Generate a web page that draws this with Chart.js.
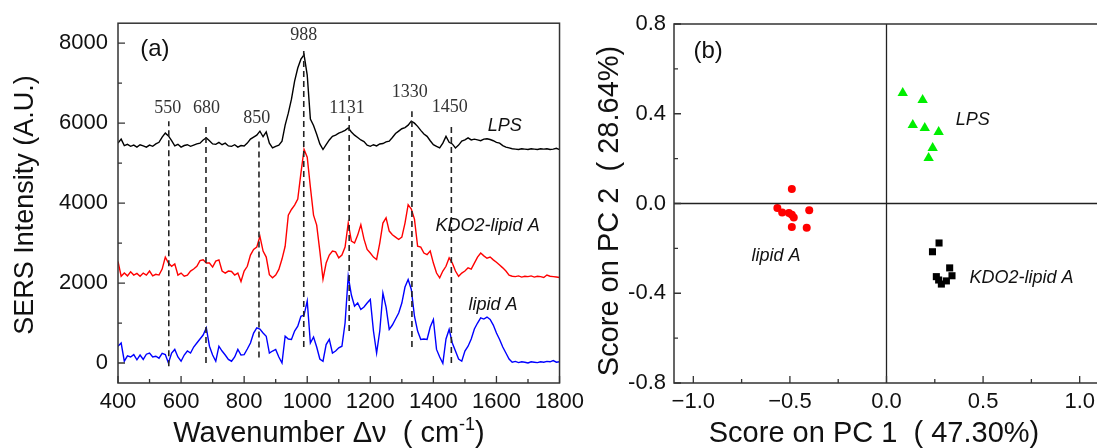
<!DOCTYPE html>
<html>
<head>
<meta charset="utf-8">
<script src="https://cdn.jsdelivr.net/npm/chart.js@4.4.0/dist/chart.umd.min.js"></script>
<style>
  html, body { margin: 0; padding: 0; background: #fff; overflow: hidden; }
  body { width: 1097px; height: 448px; position: relative; }
  #spectra { position: absolute; left: 0; top: 0; }
  #pca { position: absolute; left: 590px; top: 0; }
</style>
</head>
<body>
<canvas id="spectra" width="590" height="448"></canvas>
<canvas id="pca" width="530" height="448"></canvas>
<script>
// ---------- panel (a): SERS spectra ----------
// one reading every 10 cm-1 from 400 to 1800
const wavenumbers = [];
for (let w = 400; w <= 1800; w += 10) wavenumbers.push(w);

const lpsIntensity = [
  5500,5600,5440,5470,5420,5450,5400,5460,5430,5400, // 400
  5450,5420,5480,5520,5650,5750,5680,5560,5430,5470, // 500
  5400,5440,5460,5420,5450,5480,5500,5580,5630,5560, // 600
  5480,5470,5520,5460,5500,5430,5420,5460,5400,5440, // 700
  5430,5500,5600,5650,5700,5800,5660,5780,5500,5380, // 800
  5420,5450,5550,5950,6250,6600,7050,7380,7600,7710, // 900
  7200,6100,5940,5720,5480,5340,5460,5580,5670,5700, // 1000
  5750,5780,5820,5880,5780,5700,5640,5580,5540,5450, // 1100
  5420,5460,5430,5480,5490,5530,5550,5640,5740,5800, // 1200
  5860,5890,5950,6050,6000,5920,5820,5730,5670,5560, // 1300
  5460,5420,5380,5500,5670,5520,5480,5380,5450,5550, // 1400
  5580,5630,5580,5600,5580,5560,5600,5610,5590,5560, // 1500
  5520,5500,5440,5400,5380,5360,5350,5340,5360,5350, // 1600
  5340,5360,5350,5340,5360,5350,5360,5340,5350,5370, // 1700
  5340
];
const kdo2Intensity = [
  2540,2170,2250,2180,2280,2200,2240,2170,2250,2200, // 400
  2300,2180,2220,2200,2350,2650,2500,2420,2480,2200, // 500
  2250,2170,2200,2300,2350,2420,2560,2580,2500,2500, // 600
  2400,2550,2580,2300,2250,2300,2290,2200,2250,2040, // 700
  2300,2420,2700,2840,2900,3170,2800,2650,2210,2130, // 800
  2200,2340,2600,2920,3700,3840,3950,4100,4750,5340, // 900
  5150,4400,3700,3450,2800,2100,2500,2700,2800,2780, // 1000
  2630,2700,2900,3500,3050,3000,3200,3460,3100,2840, // 1100
  2750,2650,2590,3000,3500,3630,3300,3210,3150,3090, // 1200
  3150,3500,3960,3850,3600,2920,2900,2750,2710,2800, // 1300
  2500,2250,2130,2300,2420,2630,2500,2300,2170,2250, // 1400
  2300,2380,2350,2500,2650,2750,2680,2620,2650,2580, // 1500
  2520,2450,2380,2300,2200,2170,2160,2180,2150,2170, // 1600
  2160,2180,2150,2170,2160,2140,2200,2170,2160,2150, // 1700
  2140
];
const lipidAIntensity = [
  420,500,45,180,150,210,80,200,90,220,              // 400
  250,150,170,120,240,210,0,250,340,150,             // 500
  45,200,300,250,400,500,600,700,880,420,            // 600
  200,45,420,300,200,90,45,150,340,200,              // 700
  210,350,500,750,880,850,750,670,250,300,           // 800
  340,150,0,670,600,590,800,920,1170,1200,           // 900
  1550,500,650,400,100,45,460,590,250,300,           // 1000
  380,420,1000,2170,1700,1420,1500,1340,1400,1500,   // 1100
  1590,800,250,800,1750,1400,840,950,1100,1250,      // 1200
  1500,1900,2090,1840,1170,800,590,600,590,900,      // 1300
  1090,340,150,-10,600,840,500,300,100,45,           // 1400
  300,420,600,850,1000,1130,1100,1150,1090,950,      // 1500
  750,590,400,250,100,20,40,10,30,20,                // 1600
  0,30,20,10,30,20,40,30,60,20,                      // 1700
  30
];

// marked peaks: dashed line position, its ends and the label
const peakPos    = [561, 679, 847, 989, 1133, 1332, 1457];
const peakTop    = [6050, 5920, 5630, 7840, 6170, 6300, 5920];
const peakBottom = [-80, 0, 140, 400, 800, 400, 0];
const peakLabels = ['550', '680', '850', '988', '1131', '1330', '1450'];
const peakLabelX = [558, 681, 840, 989, 1126, 1325, 1452];
const peakLabelY = [6380, 6380, 6130, 8210, 6360, 6770, 6400];

const specXTicks  = [400,500,600,700,800,900,1000,1100,1200,1300,1400,1500,1600,1700,1800];
const specXLabels = ['400','','600','','800','','1000','','1200','','1400','','1600','','1800'];
const specYTicks  = [0,1000,2000,3000,4000,5000,6000,7000,8000];
const specYLabels = ['0','','2000','','4000','','6000','','8000'];

// ---------- panel (b): PCA scores ----------
const lipidAPc1 = [-0.49, -0.565, -0.54, -0.505, -0.49, -0.48, -0.40, -0.49, -0.413];
const lipidAPc2 = [0.065, -0.02, -0.04, -0.042, -0.05, -0.062, -0.03, -0.105, -0.108];
const lpsPc1 = [0.084, 0.187, 0.136, 0.198, 0.27, 0.239, 0.218];
const lpsPc2 = [0.492, 0.461, 0.35, 0.336, 0.319, 0.247, 0.203];
const kdo2Pc1 = [0.272, 0.238, 0.327, 0.339, 0.258, 0.270, 0.284, 0.310];
const kdo2Pc2 = [-0.176, -0.215, -0.287, -0.322, -0.326, -0.341, -0.359, -0.345];

const pcaXTicks  = [-1, -0.75, -0.5, -0.25, 0, 0.25, 0.5, 0.75, 1];
const pcaXLabels = ['\u22121.0','','\u22120.5','','0.0','','0.5','','1.0'];
const pcaYTicks  = [-0.8, -0.6, -0.4, -0.2, 0, 0.2, 0.4, 0.6, 0.8];
const pcaYLabels = ['-0.8','','-0.4','','0.0','','0.4','','0.8'];

Chart.defaults.font.family = '"Liberation Sans", Arial, sans-serif';
Chart.defaults.color = '#111';

const SANS = '"Liberation Sans", Arial, sans-serif';
const SERIF = '"Liberation Serif", "Times New Roman", serif';

// frame round the plot plus inward tick marks (long = labelled)
const axisBox = {
  id: 'axisBox',
  afterDraw(chart, args, opts) {
    const { ctx, chartArea: a, scales } = chart;
    ctx.save();
    ctx.strokeStyle = '#333';
    ctx.lineWidth = 1.5;
    ctx.strokeRect(a.left, a.top, a.right - a.left, a.bottom - a.top);
    ctx.lineWidth = 1.3;
    ctx.beginPath();
    opts.xTicks.forEach((v, i) => {
      const px = scales.x.getPixelForValue(v);
      ctx.moveTo(px, a.bottom);
      ctx.lineTo(px, a.bottom - (opts.xLabels[i] ? 7 : 4));
    });
    opts.yTicks.forEach((v, i) => {
      const py = scales.y.getPixelForValue(v);
      ctx.moveTo(a.left, py);
      ctx.lineTo(a.left + (opts.yLabels[i] ? 7 : 4), py);
    });
    ctx.stroke();
    ctx.restore();
  }
};

// free text: data positions go through the scales, titles use pixels
const drawTexts = {
  id: 'drawTexts',
  afterDraw(chart, args, opts) {
    const { ctx, scales } = chart;
    (opts.items || []).forEach(t => {
      const px = t.data ? scales.x.getPixelForValue(t.x) : t.x;
      const py = t.data ? scales.y.getPixelForValue(t.y) : t.y;
      const parts = t.parts || [{ text: t.text }];
      ctx.save();
      ctx.translate(px, py);
      if (t.rotate) ctx.rotate(t.rotate);
      ctx.fillStyle = t.color || '#111';
      ctx.textBaseline = 'middle';
      ctx.textAlign = 'left';
      const supFont = t.supFont || t.font;
      let total = 0;
      parts.forEach(p => {
        ctx.font = p.sup ? supFont : t.font;
        p.w = ctx.measureText(p.text).width;
        total += p.w;
      });
      let x = -total / 2;
      parts.forEach(p => {
        ctx.font = p.sup ? supFont : t.font;
        ctx.fillText(p.text, x, p.sup ? -9 : 0);
        x += p.w;
      });
      ctx.restore();
    });
  }
};

function xy(xs, ys) {
  return xs.map((x, i) => ({ x: x, y: ys[i] }));
}

// Spectra chart
{
  const datasets = [];
  peakPos.forEach((p, i) => {
    datasets.push({
      data: [{ x: p, y: peakBottom[i] }, { x: p, y: peakTop[i] }],
      showLine: true,
      borderColor: '#222',
      borderWidth: 1.6,
      borderDash: [6, 4],
      pointRadius: 0
    });
  });
  datasets.push({ label: 'LPS', data: xy(wavenumbers, lpsIntensity), showLine: true, borderColor: '#000', borderWidth: 1.4, pointRadius: 0 });
  datasets.push({ label: 'KDO2-lipid A', data: xy(wavenumbers, kdo2Intensity), showLine: true, borderColor: '#ff0000', borderWidth: 1.4, pointRadius: 0 });
  datasets.push({ label: 'lipid A', data: xy(wavenumbers, lipidAIntensity), showLine: true, borderColor: '#0000ff', borderWidth: 1.4, pointRadius: 0 });

  const items = peakLabels.map((t, i) => ({
    text: t, data: true, x: peakLabelX[i], y: peakLabelY[i],
    font: '18px ' + SERIF, color: '#333'
  }));
  items.push({ text: '(a)', data: true, x: 517, y: 7840, font: '24px ' + SANS });
  items.push({ text: 'LPS', data: true, x: 1626, y: 5920, font: 'italic 18px ' + SANS });
  items.push({ text: 'KDO2-lipid A', data: true, x: 1572, y: 3420, font: 'italic 18px ' + SANS });
  items.push({ text: 'lipid A', data: true, x: 1589, y: 1460, font: 'italic 18px ' + SANS });
  items.push({ text: 'SERS Intensity (A.U.)', x: 26, y: 205, rotate: -Math.PI / 2, font: '27px ' + SANS });
  items.push({
    x: 329, y: 434, font: '29px ' + SANS, supFont: '18px ' + SANS,
    parts: [{ text: 'Wavenumber \u0394\u03bd  ( cm' }, { text: '-1', sup: true }, { text: ')' }]
  });

  new Chart(document.getElementById('spectra'), {
    type: 'scatter',
    data: { datasets: datasets },
    options: {
      responsive: false,
      animation: false,
      devicePixelRatio: 1,
      layout: { padding: { top: 23, right: 30, left: 0, bottom: 0 } },
      plugins: {
        legend: { display: false },
        tooltip: { enabled: false },
        axisBox: { xTicks: specXTicks, xLabels: specXLabels, yTicks: specYTicks, yLabels: specYLabels },
        drawTexts: { items: items }
      },
      scales: {
        x: {
          type: 'linear', min: 400, max: 1800,
          afterBuildTicks: s => { s.ticks = specXTicks.map(v => ({ value: v })); },
          afterFit: s => { s.height = 65; },
          grid: { display: false, drawTicks: false },
          border: { display: false },
          ticks: { autoSkip: false, maxRotation: 0, padding: 6, font: { size: 22 }, color: '#111',
                   callback: (v, i) => specXLabels[i] }
        },
        y: {
          type: 'linear', min: -500, max: 8500,
          afterBuildTicks: s => { s.ticks = specYTicks.map(v => ({ value: v })); },
          afterFit: s => { s.width = 118; },
          grid: { display: false, drawTicks: false },
          border: { display: false },
          ticks: { autoSkip: false, padding: 10, font: { size: 22 }, color: '#111',
                   callback: (v, i) => specYLabels[i] }
        }
      }
    },
    plugins: [axisBox, drawTexts]
  });
}

// PCA score chart
{
  const items = [
    { text: '(b)', data: true, x: -0.923, y: 0.676, font: '24px ' + SANS },
    { text: 'LPS', data: true, x: 0.446, y: 0.372, font: 'italic 18px ' + SANS },
    { text: 'lipid A', data: true, x: -0.572, y: -0.234, font: 'italic 18px ' + SANS },
    { text: 'KDO2-lipid A', data: true, x: 0.699, y: -0.332, font: 'italic 18px ' + SANS },
    { text: 'Score on PC 2  ( 28.64%)', x: 20, y: 211, rotate: -Math.PI / 2, font: '29px ' + SANS },
    { text: 'Score on PC 1  ( 47.30%)', x: 284, y: 434, font: '29px ' + SANS }
  ];

  new Chart(document.getElementById('pca'), {
    type: 'scatter',
    data: {
      datasets: [
        { data: [{ x: -1.1, y: 0 }, { x: 1.1, y: 0 }], showLine: true, borderColor: '#222', borderWidth: 1.3, pointRadius: 0 },
        { data: [{ x: 0, y: -0.8 }, { x: 0, y: 0.8 }], showLine: true, borderColor: '#222', borderWidth: 1.3, pointRadius: 0 },
        { label: 'lipid A', data: xy(lipidAPc1, lipidAPc2), pointStyle: 'circle', pointRadius: 4,
          backgroundColor: '#ff0000', borderColor: '#ff0000', borderWidth: 0 },
        { label: 'LPS', data: xy(lpsPc1, lpsPc2), pointStyle: 'triangle', pointRadius: 6,
          backgroundColor: '#00ee00', borderColor: '#00ee00', borderWidth: 0 },
        { label: 'KDO2-lipid A', data: xy(kdo2Pc1, kdo2Pc2), pointStyle: 'rect', pointRadius: 5,
          backgroundColor: '#000', borderColor: '#000', borderWidth: 0 }
      ]
    },
    options: {
      responsive: false,
      animation: false,
      devicePixelRatio: 1,
      layout: { padding: { top: 24, right: 21, left: 0, bottom: 0 } },
      plugins: {
        legend: { display: false },
        tooltip: { enabled: false },
        axisBox: { xTicks: pcaXTicks, xLabels: pcaXLabels, yTicks: pcaYTicks, yLabels: pcaYLabels },
        drawTexts: { items: items }
      },
      scales: {
        x: {
          type: 'linear', min: -1.1, max: 1.1,
          afterBuildTicks: s => { s.ticks = pcaXTicks.map(v => ({ value: v })); },
          afterFit: s => { s.height = 65; },
          grid: { display: false, drawTicks: false },
          border: { display: false },
          ticks: { autoSkip: false, maxRotation: 0, padding: 6, font: { size: 22 }, color: '#111',
                   callback: (v, i) => pcaXLabels[i] }
        },
        y: {
          type: 'linear', min: -0.8, max: 0.8,
          afterBuildTicks: s => { s.ticks = pcaYTicks.map(v => ({ value: v })); },
          afterFit: s => { s.width = 84; },
          grid: { display: false, drawTicks: false },
          border: { display: false },
          ticks: { autoSkip: false, padding: 8, font: { size: 22 }, color: '#111',
                   callback: (v, i) => pcaYLabels[i] }
        }
      }
    },
    plugins: [axisBox, drawTexts]
  });
}
</script>
</body>
</html>
